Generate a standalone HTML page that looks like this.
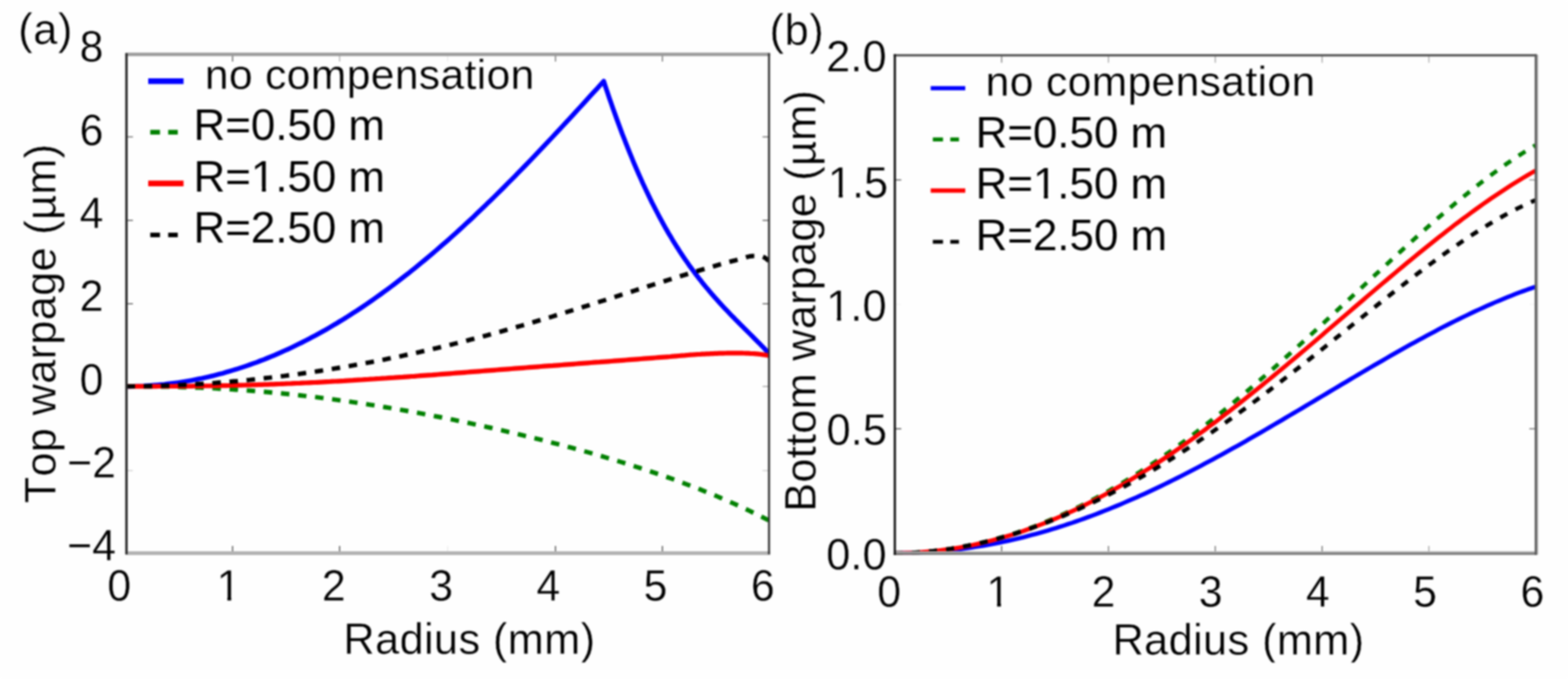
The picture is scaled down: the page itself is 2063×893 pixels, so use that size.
<!DOCTYPE html>
<html lang="en"><head><meta charset="utf-8"><title>Warpage vs radius</title>
<style>html,body{margin:0;padding:0;background:#fff;overflow:hidden}svg{display:block;filter:blur(1.0px)}
text{font-family:"Liberation Sans",sans-serif;font-size:56px;fill:#000;stroke:#fefefe;stroke-width:0.4px;paint-order:fill stroke;font-kerning:none;letter-spacing:0.5px;font-feature-settings:"kern" 0,"liga" 0}
.c{fill:none;stroke-width:6.2;stroke-linejoin:round;stroke-linecap:butt}.d{stroke-dasharray:11.2 11.4;stroke-width:5.9}#right .c{stroke-width:5.7}#right .d{stroke-dasharray:10.6 12;stroke-width:5.5}.m{text-anchor:middle}.l{fill:none}.t{text-anchor:middle;font-size:58px;letter-spacing:0}</style></head><body>
<svg width="2063" height="893" viewBox="0 0 2063 893">
<rect x="-5" y="-5" width="2073" height="903" fill="#fefefe"/>
<g id="left">
<clipPath id="cl1"><rect x="165.4" y="71.5" width="847.4" height="656.0"/></clipPath>
<path class="l" d="M306.0,727.5v-9.5" stroke="#3a3a3a" stroke-width="1.3" opacity="1"/>
<path class="l" d="M306.0,71.5v9.5" stroke="#3a3a3a" stroke-width="1.3" opacity="0.9"/>
<path class="l" d="M446.8,727.5v-9.5" stroke="#3a3a3a" stroke-width="1.3" opacity="1"/>
<path class="l" d="M446.8,71.5v9.5" stroke="#3a3a3a" stroke-width="1.3" opacity="0.45"/>
<path class="l" d="M589.0,727.5v-9.5" stroke="#3a3a3a" stroke-width="1.3" opacity="0.1"/>
<path class="l" d="M589.0,71.5v9.5" stroke="#3a3a3a" stroke-width="1.3" opacity="0.1"/>
<path class="l" d="M730.8,727.5v-9.5" stroke="#3a3a3a" stroke-width="1.3" opacity="1"/>
<path class="l" d="M730.8,71.5v9.5" stroke="#3a3a3a" stroke-width="1.3" opacity="0.8"/>
<path class="l" d="M871.5,727.5v-9.5" stroke="#3a3a3a" stroke-width="1.3" opacity="1"/>
<path class="l" d="M871.5,71.5v9.5" stroke="#3a3a3a" stroke-width="1.3" opacity="0.8"/>
<path class="l" d="M166.4,180.0h8.5" stroke="#3a3a3a" stroke-width="1.3" opacity="0.8"/>
<path class="l" d="M1011.8,180.0h-8.5" stroke="#3a3a3a" stroke-width="1.3" opacity="0.8"/>
<path class="l" d="M166.4,289.8h8.5" stroke="#3a3a3a" stroke-width="1.3" opacity="0.9"/>
<path class="l" d="M1011.8,289.8h-8.5" stroke="#3a3a3a" stroke-width="1.3" opacity="0.9"/>
<path class="l" d="M166.4,399.5h8.5" stroke="#3a3a3a" stroke-width="1.3" opacity="0.9"/>
<path class="l" d="M1011.8,399.5h-8.5" stroke="#3a3a3a" stroke-width="1.3" opacity="0.9"/>
<path class="l" d="M166.4,508.3h8.5" stroke="#3a3a3a" stroke-width="1.3" opacity="0"/>
<path class="l" d="M1011.8,508.3h-8.5" stroke="#3a3a3a" stroke-width="1.3" opacity="0.5"/>
<path class="l" d="M166.4,618.9h8.5" stroke="#3a3a3a" stroke-width="1.3" opacity="0.25"/>
<path class="l" d="M1011.8,618.9h-8.5" stroke="#3a3a3a" stroke-width="1.3" opacity="0.25"/>
<g clip-path="url(#cl1)">
<path class="c" stroke="#0000ff" d="M166.5,508.1 L171.0,508.1 L175.5,508.0 L180.0,507.9 L184.6,507.8 L189.1,507.6 L193.6,507.3 L198.1,507.0 L202.6,506.7 L207.1,506.3 L211.7,505.9 L216.2,505.5 L220.7,504.9 L225.2,504.4 L229.7,503.8 L234.2,503.2 L238.8,502.5 L243.3,501.8 L247.8,501.0 L252.3,500.2 L256.8,499.3 L261.3,498.4 L265.9,497.5 L270.4,496.5 L274.9,495.4 L279.4,494.4 L283.9,493.2 L288.4,492.1 L293.0,490.9 L297.5,489.6 L302.0,488.3 L306.5,486.9 L311.0,485.6 L315.5,484.1 L320.1,482.6 L324.6,481.1 L329.1,479.5 L333.6,477.9 L338.1,476.3 L342.6,474.5 L347.2,472.8 L351.7,471.0 L356.2,469.2 L360.7,467.3 L365.2,465.3 L369.7,463.4 L374.3,461.3 L378.8,459.3 L383.3,457.2 L387.8,455.0 L392.3,452.8 L396.8,450.6 L401.4,448.3 L405.9,446.0 L410.4,443.6 L414.9,441.2 L419.4,438.7 L423.9,436.2 L428.5,433.7 L433.0,431.1 L437.5,428.4 L442.0,425.8 L446.5,423.0 L451.0,420.3 L455.6,417.5 L460.1,414.6 L464.6,411.7 L469.1,408.8 L473.6,405.8 L478.1,402.8 L482.7,399.7 L487.2,396.6 L491.7,393.5 L496.2,390.3 L500.7,387.1 L505.2,383.8 L509.8,380.5 L514.3,377.1 L518.8,373.7 L523.3,370.3 L527.8,366.8 L532.3,363.3 L536.9,359.8 L541.4,356.2 L545.9,352.6 L550.4,348.9 L554.9,345.2 L559.4,341.5 L564.0,337.7 L568.5,333.9 L573.0,330.0 L577.5,326.1 L582.0,322.2 L586.5,318.3 L591.1,314.3 L595.6,310.2 L600.1,306.2 L604.6,302.1 L609.1,298.0 L613.6,293.8 L618.2,289.6 L622.7,285.4 L627.2,281.1 L631.7,276.8 L636.2,272.5 L640.7,268.1 L645.3,263.8 L649.8,259.4 L654.3,254.9 L658.8,250.5 L663.3,246.0 L667.8,241.4 L672.4,236.9 L676.9,232.3 L681.4,227.7 L685.9,223.1 L690.4,218.5 L694.9,213.8 L699.5,209.1 L704.0,204.4 L708.5,199.7 L713.0,194.9 L717.5,190.1 L722.0,185.4 L726.6,180.5 L731.1,175.7 L735.6,170.9 L740.1,166.0 L744.6,161.1 L749.1,156.3 L753.7,151.4 L758.2,146.4 L762.7,141.5 L767.2,136.6 L771.7,131.6 L776.2,126.7 L780.8,121.7 L785.3,116.8 L789.8,111.8 L794.3,106.8 L796.7,114.2 L799.2,121.5 L801.6,128.7 L804.1,135.8 L806.5,142.8 L809.0,149.6 L811.4,156.4 L813.9,163.1 L816.3,169.6 L818.7,176.1 L821.2,182.4 L823.6,188.7 L826.1,194.9 L828.5,200.9 L831.0,206.9 L833.4,212.8 L835.8,218.5 L838.3,224.2 L840.7,229.8 L843.2,235.3 L845.6,240.7 L848.1,246.0 L850.5,251.2 L853.0,256.3 L855.4,261.3 L857.8,266.3 L860.3,271.2 L862.7,275.9 L865.2,280.6 L867.6,285.2 L870.1,289.8 L872.5,294.2 L874.9,298.6 L877.4,302.9 L879.8,307.1 L882.3,311.2 L884.7,315.3 L887.2,319.3 L889.6,323.2 L892.1,327.0 L894.5,330.8 L896.9,334.5 L899.4,338.2 L901.8,341.8 L904.3,345.3 L906.7,348.8 L909.2,352.2 L911.6,355.5 L914.0,358.8 L916.5,362.0 L918.9,365.2 L921.4,368.3 L923.8,371.4 L926.3,374.4 L928.7,377.4 L931.2,380.3 L933.6,383.2 L936.0,386.1 L938.5,388.9 L940.9,391.7 L943.4,394.4 L945.8,397.1 L948.3,399.8 L950.7,402.5 L953.1,405.1 L955.6,407.7 L958.0,410.2 L960.5,412.8 L962.9,415.3 L965.4,417.8 L967.8,420.3 L970.3,422.8 L972.7,425.2 L975.1,427.7 L977.6,430.1 L980.0,432.6 L982.5,435.0 L984.9,437.4 L987.4,439.9 L989.8,442.3 L992.2,444.7 L994.7,447.2 L997.1,449.7 L999.6,452.1 L1002.0,454.6 L1004.5,457.1 L1006.9,459.7 L1009.4,462.2 L1011.8,464.8"/>
<path class="c d" stroke="#008000" d="M166.5,508.1 L171.8,508.1 L177.1,508.1 L182.4,508.1 L187.8,508.2 L193.1,508.2 L198.4,508.3 L203.7,508.3 L209.0,508.4 L214.3,508.5 L219.7,508.6 L225.0,508.7 L230.3,508.9 L235.6,509.0 L240.9,509.2 L246.2,509.3 L251.6,509.5 L256.9,509.7 L262.2,509.9 L267.5,510.1 L272.8,510.4 L278.1,510.6 L283.5,510.9 L288.8,511.2 L294.1,511.5 L299.4,511.8 L304.7,512.1 L310.0,512.5 L315.4,512.8 L320.7,513.2 L326.0,513.6 L331.3,514.0 L336.6,514.4 L341.9,514.8 L347.3,515.3 L352.6,515.7 L357.9,516.2 L363.2,516.7 L368.5,517.2 L373.8,517.7 L379.2,518.3 L384.5,518.8 L389.8,519.4 L395.1,520.0 L400.4,520.6 L405.7,521.2 L411.1,521.8 L416.4,522.4 L421.7,523.1 L427.0,523.8 L432.3,524.4 L437.6,525.1 L443.0,525.9 L448.3,526.6 L453.6,527.3 L458.9,528.1 L464.2,528.8 L469.5,529.6 L474.8,530.4 L480.2,531.2 L485.5,532.1 L490.8,532.9 L496.1,533.7 L501.4,534.6 L506.7,535.5 L512.1,536.4 L517.4,537.3 L522.7,538.2 L528.0,539.1 L533.3,540.0 L538.6,541.0 L544.0,542.0 L549.3,542.9 L554.6,543.9 L559.9,544.9 L565.2,545.9 L570.5,547.0 L575.9,548.0 L581.2,549.0 L586.5,550.1 L591.8,551.2 L597.1,552.2 L602.4,553.3 L607.8,554.4 L613.1,555.6 L618.4,556.7 L623.7,557.8 L629.0,559.0 L634.3,560.1 L639.7,561.3 L645.0,562.5 L650.3,563.7 L655.6,564.9 L660.9,566.1 L666.2,567.4 L671.6,568.6 L676.9,569.9 L682.2,571.1 L687.5,572.4 L692.8,573.7 L698.1,575.0 L703.5,576.3 L708.8,577.6 L714.1,579.0 L719.4,580.3 L724.7,581.7 L730.0,583.1 L735.3,584.4 L740.7,585.8 L746.0,587.3 L751.3,588.7 L756.6,590.1 L761.9,591.6 L767.2,593.1 L772.6,594.5 L777.9,596.0 L783.2,597.6 L788.5,599.1 L793.8,600.6 L799.1,602.2 L804.5,603.8 L809.8,605.4 L815.1,607.0 L820.4,608.6 L825.7,610.3 L831.0,612.0 L836.4,613.7 L841.7,615.4 L847.0,617.1 L852.3,618.9 L857.6,620.6 L862.9,622.4 L868.3,624.2 L873.6,626.1 L878.9,627.9 L884.2,629.8 L889.5,631.7 L894.8,633.7 L900.2,635.7 L905.5,637.7 L910.8,639.7 L916.1,641.7 L921.4,643.8 L926.7,645.9 L932.1,648.1 L937.4,650.2 L942.7,652.4 L948.0,654.7 L953.3,657.0 L958.6,659.3 L964.0,661.6 L969.3,664.0 L974.6,666.5 L979.9,668.9 L985.2,671.4 L990.5,674.0 L995.9,676.6 L1001.2,679.2 L1006.5,681.9 L1011.8,684.6"/>
<path class="c" stroke="#ff0000" d="M166.5,508.1 L170.4,508.1 L174.2,508.1 L178.1,508.1 L182.0,508.1 L185.8,508.1 L189.7,508.1 L193.6,508.1 L197.4,508.1 L201.3,508.1 L205.2,508.1 L209.0,508.0 L212.9,508.0 L216.8,508.0 L220.6,508.0 L224.5,508.0 L228.4,508.0 L232.2,507.9 L236.1,507.9 L240.0,507.9 L243.8,507.8 L247.7,507.8 L251.6,507.8 L255.4,507.7 L259.3,507.7 L263.2,507.6 L267.0,507.6 L270.9,507.5 L274.8,507.5 L278.6,507.4 L282.5,507.3 L286.4,507.3 L290.2,507.2 L294.1,507.1 L298.0,507.1 L301.8,507.0 L305.7,506.9 L309.6,506.8 L313.4,506.7 L317.3,506.6 L321.2,506.5 L325.0,506.4 L328.9,506.3 L332.8,506.2 L336.6,506.1 L340.5,505.9 L344.4,505.8 L348.2,505.7 L352.1,505.6 L356.0,505.4 L359.8,505.3 L363.7,505.1 L367.5,505.0 L371.4,504.8 L375.3,504.7 L379.1,504.5 L383.0,504.4 L386.9,504.2 L390.7,504.0 L394.6,503.9 L398.5,503.7 L402.3,503.5 L406.2,503.3 L410.1,503.1 L413.9,503.0 L417.8,502.8 L421.7,502.6 L425.5,502.4 L429.4,502.2 L433.3,502.0 L437.1,501.7 L441.0,501.5 L444.9,501.3 L448.7,501.1 L452.6,500.9 L456.5,500.6 L460.3,500.4 L464.2,500.2 L468.1,499.9 L471.9,499.7 L475.8,499.5 L479.7,499.2 L483.5,499.0 L487.4,498.7 L491.3,498.5 L495.1,498.2 L499.0,498.0 L502.9,497.7 L506.7,497.5 L510.6,497.2 L514.5,496.9 L518.3,496.7 L522.2,496.4 L526.1,496.1 L529.9,495.9 L533.8,495.6 L537.7,495.3 L541.5,495.0 L545.4,494.8 L549.3,494.5 L553.1,494.2 L557.0,493.9 L560.9,493.6 L564.7,493.3 L568.6,493.1 L572.5,492.8 L576.3,492.5 L580.2,492.2 L584.1,491.9 L587.9,491.6 L591.8,491.3 L595.7,491.0 L599.5,490.7 L603.4,490.4 L607.3,490.1 L611.1,489.8 L615.0,489.5 L618.9,489.2 L622.7,488.9 L626.6,488.6 L630.5,488.3 L634.3,488.0 L638.2,487.7 L642.1,487.4 L645.9,487.1 L649.8,486.8 L653.7,486.5 L657.5,486.2 L661.4,485.9 L665.3,485.6 L669.1,485.3 L673.0,485.0 L676.9,484.7 L680.7,484.4 L684.6,484.1 L688.5,483.8 L692.3,483.5 L696.2,483.2 L700.1,482.9 L703.9,482.6 L707.8,482.3 L711.7,482.0 L715.5,481.7 L719.4,481.4 L723.3,481.1 L727.1,480.9 L731.0,480.6 L734.9,480.3 L738.7,480.0 L742.6,479.7 L746.4,479.4 L750.3,479.1 L754.2,478.8 L758.0,478.5 L761.9,478.2 L765.8,477.9 L769.6,477.6 L773.5,477.3 L777.4,477.0 L781.2,476.7 L785.1,476.4 L789.0,476.2 L792.8,475.9 L796.7,475.6 L800.6,475.3 L804.4,475.0 L808.3,474.7 L812.2,474.4 L816.0,474.1 L819.9,473.8 L823.8,473.5 L827.6,473.2 L831.5,472.9 L835.4,472.6 L839.2,472.3 L843.1,472.0 L847.0,471.7 L850.8,471.4 L854.7,471.1 L858.6,470.8 L862.4,470.5 L866.3,470.2 L870.2,469.9 L874.0,469.6 L877.9,469.3 L881.8,469.0 L885.6,468.6 L889.5,468.3 L893.4,468.0 L897.2,467.7 L901.1,467.4 L905.0,467.0 L908.8,466.7 L912.7,466.4 L913.2,466.3 L915.9,466.2 L918.7,466.0 L921.4,465.9 L924.1,465.7 L926.9,465.6 L929.6,465.4 L932.4,465.3 L935.1,465.2 L937.8,465.1 L940.6,464.9 L943.3,464.8 L946.1,464.7 L948.8,464.6 L951.5,464.6 L954.3,464.5 L957.0,464.4 L959.8,464.4 L962.5,464.3 L965.2,464.3 L968.0,464.3 L970.7,464.3 L973.5,464.3 L976.2,464.4 L978.9,464.5 L981.7,464.6 L984.4,464.7 L987.1,464.9 L989.9,465.0 L992.6,465.2 L995.4,465.4 L998.1,465.7 L1000.8,466.0 L1003.6,466.4 L1006.3,466.7 L1009.1,467.2 L1011.8,467.6"/>
<path class="c d" stroke="#000" d="M166.5,508.1 L170.7,508.1 L174.8,508.1 L179.0,508.0 L183.1,508.0 L187.3,507.9 L191.4,507.9 L195.6,507.8 L199.7,507.7 L203.9,507.6 L208.0,507.5 L212.2,507.4 L216.3,507.2 L220.5,507.1 L224.6,506.9 L228.8,506.8 L232.9,506.6 L237.1,506.4 L241.2,506.2 L245.4,506.0 L249.5,505.8 L253.7,505.5 L257.8,505.3 L262.0,505.0 L266.1,504.8 L270.3,504.5 L274.4,504.2 L278.6,503.9 L282.7,503.6 L286.9,503.3 L291.0,503.0 L295.2,502.6 L299.3,502.3 L303.5,501.9 L307.6,501.5 L311.8,501.2 L315.9,500.8 L320.1,500.4 L324.2,500.0 L328.4,499.6 L332.6,499.1 L336.7,498.7 L340.9,498.3 L345.0,497.8 L349.2,497.3 L353.3,496.9 L357.5,496.4 L361.6,495.9 L365.8,495.4 L369.9,494.9 L374.1,494.4 L378.2,493.8 L382.4,493.3 L386.5,492.7 L390.7,492.2 L394.8,491.6 L399.0,491.0 L403.1,490.4 L407.3,489.8 L411.4,489.2 L415.6,488.6 L419.7,488.0 L423.9,487.3 L428.0,486.7 L432.2,486.0 L436.3,485.4 L440.5,484.7 L444.6,484.0 L448.8,483.3 L452.9,482.6 L457.1,481.9 L461.2,481.2 L465.4,480.4 L469.5,479.7 L473.7,478.9 L477.8,478.2 L482.0,477.4 L486.1,476.6 L490.3,475.8 L494.4,475.0 L498.6,474.2 L502.8,473.4 L506.9,472.6 L511.1,471.7 L515.2,470.9 L519.4,470.0 L523.5,469.2 L527.7,468.3 L531.8,467.4 L536.0,466.5 L540.1,465.6 L544.3,464.7 L548.4,463.8 L552.6,462.9 L556.7,461.9 L560.9,461.0 L565.0,460.0 L569.2,459.0 L573.3,458.1 L577.5,457.1 L581.6,456.1 L585.8,455.1 L589.9,454.1 L594.1,453.1 L598.2,452.0 L602.4,451.0 L606.5,449.9 L610.7,448.9 L614.8,447.8 L619.0,446.7 L623.1,445.7 L627.3,444.6 L631.4,443.5 L635.6,442.4 L639.7,441.3 L643.9,440.1 L648.0,439.0 L652.2,437.9 L656.3,436.7 L660.5,435.6 L664.7,434.4 L668.8,433.2 L673.0,432.1 L677.1,430.9 L681.3,429.7 L685.4,428.5 L689.6,427.3 L693.7,426.1 L697.9,424.9 L702.0,423.7 L706.2,422.4 L710.3,421.2 L714.5,420.0 L718.6,418.7 L722.8,417.5 L726.9,416.2 L731.1,414.9 L735.2,413.7 L739.4,412.4 L743.5,411.1 L747.7,409.8 L751.8,408.5 L756.0,407.3 L760.1,406.0 L764.3,404.7 L768.4,403.4 L772.6,402.1 L776.7,400.7 L780.9,399.4 L785.0,398.1 L789.2,396.8 L793.3,395.5 L797.5,394.2 L801.6,392.8 L805.8,391.5 L809.9,390.2 L814.1,388.9 L818.2,387.5 L822.4,386.2 L826.5,384.9 L830.7,383.6 L834.9,382.2 L839.0,380.9 L843.2,379.6 L847.3,378.3 L851.5,376.9 L855.6,375.6 L859.8,374.3 L863.9,373.0 L868.1,371.7 L872.2,370.4 L876.4,369.1 L880.5,367.8 L884.7,366.5 L888.8,365.2 L893.0,363.9 L897.1,362.6 L901.3,361.4 L905.4,360.1 L909.6,358.8 L913.7,357.6 L917.9,356.4 L922.0,355.1 L926.2,353.9 L930.3,352.7 L934.5,351.5 L938.6,350.3 L942.8,349.1 L946.9,347.9 L951.1,346.8 L955.2,345.6 L959.4,344.5 L963.5,343.4 L967.7,342.3 L968.8,342.0 L970.1,341.6 L971.5,341.2 L972.8,340.8 L974.2,340.4 L975.5,340.0 L976.9,339.6 L978.2,339.2 L979.5,338.8 L980.9,338.5 L982.2,338.1 L983.6,337.8 L984.9,337.5 L986.3,337.2 L987.6,337.0 L989.0,336.8 L990.3,336.7 L991.6,336.6 L993.0,336.6 L994.3,336.6 L995.7,336.7 L997.0,336.8 L998.4,336.9 L999.7,337.0 L1001.0,337.2 L1002.4,337.4 L1003.7,337.7 L1005.1,338.3 L1006.4,339.1 L1007.8,340.0 L1009.1,341.1 L1010.5,342.2 L1011.8,343.4"/>
</g>
<path class="l" d="M164.9,71.5H1013.3" stroke="#9a9a9a" stroke-width="4.4"/><path class="l" d="M164.9,727.5H1013.3" stroke="#b2b2b2" stroke-width="4.8"/><path class="l" d="M166.4,70.0V729.0" stroke="#2a2a2a" stroke-width="3.2"/><path class="l" d="M1011.8,70.0V729.0" stroke="#333" stroke-width="2.7"/>
<text class="t" textLength="31.3" lengthAdjust="spacingAndGlyphs" x="120.4" y="81.2">8</text>
<text class="t" textLength="31.3" lengthAdjust="spacingAndGlyphs" x="120.4" y="190.5">6</text>
<text class="t" textLength="31.3" lengthAdjust="spacingAndGlyphs" x="120.4" y="299.9">4</text>
<text class="t" textLength="31.3" lengthAdjust="spacingAndGlyphs" x="120.4" y="409.2">2</text>
<text class="t" textLength="31.3" lengthAdjust="spacingAndGlyphs" x="120.4" y="518.5">0</text>
<text class="t" textLength="64.3" lengthAdjust="spacingAndGlyphs" x="120.4" y="627.9">−2</text>
<text class="t" textLength="64.3" lengthAdjust="spacingAndGlyphs" x="120.4" y="737.2">−4</text>
<text class="t" textLength="31.3" lengthAdjust="spacingAndGlyphs" x="157.0" y="790.3">0</text>
<text class="t" textLength="31.3" lengthAdjust="spacingAndGlyphs" x="300.7" y="790.3">1</text>
<text class="t" textLength="31.3" lengthAdjust="spacingAndGlyphs" x="439.2" y="790.3">2</text>
<text class="t" textLength="31.3" lengthAdjust="spacingAndGlyphs" x="580.3" y="790.3">3</text>
<text class="t" textLength="31.3" lengthAdjust="spacingAndGlyphs" x="721.4" y="790.3">4</text>
<text class="t" textLength="31.3" lengthAdjust="spacingAndGlyphs" x="862.5" y="790.3">5</text>
<text class="t" textLength="31.3" lengthAdjust="spacingAndGlyphs" x="1003.6" y="790.3">6</text>
<text class="m" x="617.7" y="859.8" style="font-size:57px">Radius (mm)</text>
<text class="m" transform="translate(72.8,425.4) rotate(-90)" style="font-size:57px;letter-spacing:0.4px">Top warpage (µm)</text>
<text x="24" y="58.3" style="font-size:57px;letter-spacing:0.8px">(a)</text>
<path class="l" d="M195,106.8h46.5" stroke="#0000ff" stroke-width="7.6"/>
<text x="269.5" y="116.5" style="letter-spacing:0.5px;font-size:56px;stroke-width:0.3px">no compensation</text>
<path class="l" d="M197.7,173.8h12.8M221.3,173.8h12.6" stroke="#008000" stroke-width="6.2"/>
<text x="254.6" y="184.0" style="letter-spacing:-0.15px;font-size:58px;stroke-width:0.1px">R=0.50 m</text>
<path class="l" d="M195,241.3h46.5" stroke="#ff0000" stroke-width="7.6"/>
<text x="254.6" y="251.5" style="letter-spacing:-0.15px;font-size:58px;stroke-width:0.1px">R=1.50 m</text>
<path class="l" d="M197.7,309.0h12.8M221.3,309.0h12.6" stroke="#000" stroke-width="6.2"/>
<text x="254.6" y="319.0" style="letter-spacing:-0.15px;font-size:58px;stroke-width:0.1px">R=2.50 m</text>
</g>
<g id="right">
<clipPath id="cl2"><rect x="1176.3" y="73.0" width="845.3" height="656.5"/></clipPath>
<path class="l" d="M1317.8,727.5v-9.5" stroke="#3a3a3a" stroke-width="1.3" opacity="0.9"/>
<path class="l" d="M1317.8,73.0v9.5" stroke="#3a3a3a" stroke-width="1.3" opacity="0.7"/>
<path class="l" d="M1458.4,727.5v-9.5" stroke="#3a3a3a" stroke-width="1.3" opacity="0.8"/>
<path class="l" d="M1458.4,73.0v9.5" stroke="#3a3a3a" stroke-width="1.3" opacity="0.5"/>
<path class="l" d="M1598.9,727.5v-9.5" stroke="#3a3a3a" stroke-width="1.3" opacity="0.8"/>
<path class="l" d="M1598.9,73.0v9.5" stroke="#3a3a3a" stroke-width="1.3" opacity="0.5"/>
<path class="l" d="M1739.5,727.5v-9.5" stroke="#3a3a3a" stroke-width="1.3" opacity="0.8"/>
<path class="l" d="M1739.5,73.0v9.5" stroke="#3a3a3a" stroke-width="1.3" opacity="0.5"/>
<path class="l" d="M1880.0,727.5v-9.5" stroke="#3a3a3a" stroke-width="1.3" opacity="0.5"/>
<path class="l" d="M1880.0,73.0v9.5" stroke="#3a3a3a" stroke-width="1.3" opacity="0.45"/>
<path class="l" d="M1177.3,236.6h8.5" stroke="#3a3a3a" stroke-width="1.3" opacity="0.9"/>
<path class="l" d="M2020.6,236.6h-8.5" stroke="#3a3a3a" stroke-width="1.3" opacity="0.6"/>
<path class="l" d="M1177.3,400.2h8.5" stroke="#3a3a3a" stroke-width="1.3" opacity="0.05"/>
<path class="l" d="M2020.6,400.2h-8.5" stroke="#3a3a3a" stroke-width="1.3" opacity="0.05"/>
<path class="l" d="M1177.3,563.9h8.5" stroke="#3a3a3a" stroke-width="1.3" opacity="1"/>
<path class="l" d="M2020.6,563.9h-8.5" stroke="#3a3a3a" stroke-width="1.3" opacity="0.8"/>
<g clip-path="url(#cl2)">
<path class="c" stroke="#0000ff" d="M1177.2,727.5 L1182.5,727.5 L1187.8,727.4 L1193.1,727.3 L1198.4,727.2 L1203.7,727.0 L1209.0,726.8 L1214.3,726.5 L1219.6,726.2 L1224.9,725.9 L1230.2,725.5 L1235.5,725.1 L1240.8,724.6 L1246.1,724.1 L1251.4,723.5 L1256.7,722.9 L1262.0,722.3 L1267.3,721.6 L1272.6,720.9 L1277.9,720.1 L1283.3,719.3 L1288.6,718.5 L1293.9,717.6 L1299.2,716.6 L1304.5,715.7 L1309.8,714.7 L1315.1,713.6 L1320.4,712.5 L1325.7,711.4 L1331.0,710.2 L1336.3,709.0 L1341.6,707.7 L1346.9,706.4 L1352.2,705.0 L1357.5,703.6 L1362.8,702.2 L1368.1,700.7 L1373.4,699.2 L1378.7,697.7 L1384.0,696.1 L1389.3,694.5 L1394.6,692.8 L1399.9,691.1 L1405.2,689.3 L1410.5,687.6 L1415.8,685.7 L1421.1,683.9 L1426.4,682.0 L1431.7,680.0 L1437.0,678.1 L1442.3,676.1 L1447.6,674.0 L1452.9,671.9 L1458.2,669.8 L1463.5,667.7 L1468.8,665.5 L1474.1,663.3 L1479.4,661.0 L1484.7,658.7 L1490.0,656.4 L1495.4,654.1 L1500.7,651.7 L1506.0,649.3 L1511.3,646.8 L1516.6,644.3 L1521.9,641.8 L1527.2,639.3 L1532.5,636.7 L1537.8,634.1 L1543.1,631.5 L1548.4,628.9 L1553.7,626.2 L1559.0,623.5 L1564.3,620.8 L1569.6,618.0 L1574.9,615.3 L1580.2,612.5 L1585.5,609.6 L1590.8,606.8 L1596.1,603.9 L1601.4,601.1 L1606.7,598.2 L1612.0,595.2 L1617.3,592.3 L1622.6,589.3 L1627.9,586.4 L1633.2,583.4 L1638.5,580.4 L1643.8,577.3 L1649.1,574.3 L1654.4,571.2 L1659.7,568.2 L1665.0,565.1 L1670.3,562.0 L1675.6,558.9 L1680.9,555.8 L1686.2,552.7 L1691.5,549.5 L1696.8,546.4 L1702.1,543.3 L1707.5,540.1 L1712.8,537.0 L1718.1,533.8 L1723.4,530.6 L1728.7,527.5 L1734.0,524.3 L1739.3,521.1 L1744.6,518.0 L1749.9,514.8 L1755.2,511.6 L1760.5,508.5 L1765.8,505.3 L1771.1,502.2 L1776.4,499.0 L1781.7,495.9 L1787.0,492.8 L1792.3,489.6 L1797.6,486.5 L1802.9,483.4 L1808.2,480.3 L1813.5,477.2 L1818.8,474.2 L1824.1,471.1 L1829.4,468.1 L1834.7,465.0 L1840.0,462.0 L1845.3,459.0 L1850.6,456.1 L1855.9,453.1 L1861.2,450.2 L1866.5,447.3 L1871.8,444.4 L1877.1,441.5 L1882.4,438.7 L1887.7,435.9 L1893.0,433.1 L1898.3,430.3 L1903.6,427.6 L1908.9,424.9 L1914.2,422.3 L1919.6,419.6 L1924.9,417.0 L1930.2,414.5 L1935.5,411.9 L1940.8,409.4 L1946.1,407.0 L1951.4,404.6 L1956.7,402.2 L1962.0,399.8 L1967.3,397.5 L1972.6,395.3 L1977.9,393.1 L1983.2,390.9 L1988.5,388.8 L1993.8,386.7 L1999.1,384.7 L2004.4,382.8 L2009.7,380.8 L2015.0,379.0 L2020.3,377.1"/>
<path class="c d" stroke="#008000" d="M1177.2,727.5 L1182.5,727.5 L1187.8,727.4 L1193.1,727.2 L1198.4,727.0 L1203.7,726.8 L1209.0,726.4 L1214.3,726.0 L1219.6,725.6 L1224.9,725.1 L1230.2,724.5 L1235.5,723.9 L1240.8,723.2 L1246.1,722.5 L1251.4,721.7 L1256.7,720.8 L1262.0,719.9 L1267.3,718.9 L1272.6,717.9 L1277.9,716.8 L1283.3,715.7 L1288.6,714.5 L1293.9,713.2 L1299.2,711.9 L1304.5,710.5 L1309.8,709.0 L1315.1,707.5 L1320.4,706.0 L1325.7,704.4 L1331.0,702.7 L1336.3,701.0 L1341.6,699.2 L1346.9,697.3 L1352.2,695.4 L1357.5,693.5 L1362.8,691.5 L1368.1,689.4 L1373.4,687.3 L1378.7,685.1 L1384.0,682.8 L1389.3,680.5 L1394.6,678.2 L1399.9,675.8 L1405.2,673.3 L1410.5,670.8 L1415.8,668.2 L1421.1,665.6 L1426.4,662.9 L1431.7,660.2 L1437.0,657.4 L1442.3,654.6 L1447.6,651.7 L1452.9,648.8 L1458.2,645.8 L1463.5,642.7 L1468.8,639.6 L1474.1,636.5 L1479.4,633.3 L1484.7,630.0 L1490.0,626.7 L1495.4,623.4 L1500.7,620.0 L1506.0,616.5 L1511.3,613.1 L1516.6,609.5 L1521.9,605.9 L1527.2,602.3 L1532.5,598.6 L1537.8,594.9 L1543.1,591.1 L1548.4,587.3 L1553.7,583.5 L1559.0,579.6 L1564.3,575.6 L1569.6,571.6 L1574.9,567.6 L1580.2,563.5 L1585.5,559.4 L1590.8,555.3 L1596.1,551.1 L1601.4,546.9 L1606.7,542.6 L1612.0,538.3 L1617.3,534.0 L1622.6,529.6 L1627.9,525.2 L1633.2,520.8 L1638.5,516.3 L1643.8,511.9 L1649.1,507.3 L1654.4,502.8 L1659.7,498.2 L1665.0,493.6 L1670.3,488.9 L1675.6,484.3 L1680.9,479.6 L1686.2,474.9 L1691.5,470.1 L1696.8,465.4 L1702.1,460.6 L1707.5,455.8 L1712.8,451.0 L1718.1,446.2 L1723.4,441.3 L1728.7,436.5 L1734.0,431.6 L1739.3,426.7 L1744.6,421.8 L1749.9,416.9 L1755.2,412.0 L1760.5,407.0 L1765.8,402.1 L1771.1,397.2 L1776.4,392.2 L1781.7,387.3 L1787.0,382.3 L1792.3,377.4 L1797.6,372.5 L1802.9,367.5 L1808.2,362.6 L1813.5,357.7 L1818.8,352.8 L1824.1,347.9 L1829.4,343.0 L1834.7,338.1 L1840.0,333.2 L1845.3,328.4 L1850.6,323.6 L1855.9,318.8 L1861.2,314.0 L1866.5,309.2 L1871.8,304.5 L1877.1,299.8 L1882.4,295.1 L1887.7,290.5 L1893.0,285.9 L1898.3,281.3 L1903.6,276.8 L1908.9,272.3 L1914.2,267.8 L1919.6,263.4 L1924.9,259.1 L1930.2,254.8 L1935.5,250.5 L1940.8,246.3 L1946.1,242.1 L1951.4,238.0 L1956.7,234.0 L1962.0,230.0 L1967.3,226.1 L1972.6,222.3 L1977.9,218.5 L1983.2,214.8 L1988.5,211.2 L1993.8,207.6 L1999.1,204.1 L2004.4,200.7 L2009.7,197.4 L2015.0,194.2 L2020.3,191.1"/>
<path class="c" stroke="#ff0000" d="M1177.2,727.5 L1182.5,727.5 L1187.8,727.4 L1193.1,727.2 L1198.4,727.0 L1203.7,726.8 L1209.0,726.5 L1214.3,726.1 L1219.6,725.7 L1224.9,725.2 L1230.2,724.6 L1235.5,724.0 L1240.8,723.4 L1246.1,722.7 L1251.4,721.9 L1256.7,721.1 L1262.0,720.2 L1267.3,719.2 L1272.6,718.2 L1277.9,717.2 L1283.3,716.0 L1288.6,714.9 L1293.9,713.6 L1299.2,712.3 L1304.5,711.0 L1309.8,709.6 L1315.1,708.1 L1320.4,706.6 L1325.7,705.0 L1331.0,703.4 L1336.3,701.7 L1341.6,700.0 L1346.9,698.2 L1352.2,696.3 L1357.5,694.4 L1362.8,692.4 L1368.1,690.4 L1373.4,688.3 L1378.7,686.2 L1384.0,684.0 L1389.3,681.8 L1394.6,679.5 L1399.9,677.1 L1405.2,674.7 L1410.5,672.3 L1415.8,669.8 L1421.1,667.2 L1426.4,664.6 L1431.7,662.0 L1437.0,659.3 L1442.3,656.5 L1447.6,653.7 L1452.9,650.9 L1458.2,648.0 L1463.5,645.0 L1468.8,642.0 L1474.1,639.0 L1479.4,635.9 L1484.7,632.7 L1490.0,629.5 L1495.4,626.3 L1500.7,623.0 L1506.0,619.7 L1511.3,616.4 L1516.6,613.0 L1521.9,609.5 L1527.2,606.0 L1532.5,602.5 L1537.8,598.9 L1543.1,595.3 L1548.4,591.7 L1553.7,588.0 L1559.0,584.2 L1564.3,580.5 L1569.6,576.7 L1574.9,572.8 L1580.2,569.0 L1585.5,565.1 L1590.8,561.1 L1596.1,557.2 L1601.4,553.2 L1606.7,549.1 L1612.0,545.1 L1617.3,541.0 L1622.6,536.8 L1627.9,532.7 L1633.2,528.5 L1638.5,524.3 L1643.8,520.1 L1649.1,515.8 L1654.4,511.6 L1659.7,507.3 L1665.0,502.9 L1670.3,498.6 L1675.6,494.2 L1680.9,489.9 L1686.2,485.5 L1691.5,481.1 L1696.8,476.6 L1702.1,472.2 L1707.5,467.7 L1712.8,463.3 L1718.1,458.8 L1723.4,454.3 L1728.7,449.8 L1734.0,445.3 L1739.3,440.8 L1744.6,436.2 L1749.9,431.7 L1755.2,427.2 L1760.5,422.7 L1765.8,418.1 L1771.1,413.6 L1776.4,409.1 L1781.7,404.5 L1787.0,400.0 L1792.3,395.5 L1797.6,390.9 L1802.9,386.4 L1808.2,381.9 L1813.5,377.4 L1818.8,372.9 L1824.1,368.5 L1829.4,364.0 L1834.7,359.6 L1840.0,355.1 L1845.3,350.7 L1850.6,346.3 L1855.9,342.0 L1861.2,337.6 L1866.5,333.3 L1871.8,329.0 L1877.1,324.7 L1882.4,320.5 L1887.7,316.2 L1893.0,312.0 L1898.3,307.9 L1903.6,303.7 L1908.9,299.7 L1914.2,295.6 L1919.6,291.6 L1924.9,287.6 L1930.2,283.7 L1935.5,279.8 L1940.8,275.9 L1946.1,272.1 L1951.4,268.3 L1956.7,264.6 L1962.0,260.9 L1967.3,257.3 L1972.6,253.8 L1977.9,250.3 L1983.2,246.8 L1988.5,243.4 L1993.8,240.1 L1999.1,236.8 L2004.4,233.6 L2009.7,230.5 L2015.0,227.4 L2020.3,224.4"/>
<path class="c d" stroke="#000" d="M1177.2,727.5 L1182.5,727.5 L1187.8,727.4 L1193.1,727.2 L1198.4,727.0 L1203.7,726.7 L1209.0,726.4 L1214.3,726.0 L1219.6,725.5 L1224.9,725.0 L1230.2,724.4 L1235.5,723.8 L1240.8,723.1 L1246.1,722.4 L1251.4,721.6 L1256.7,720.7 L1262.0,719.8 L1267.3,718.8 L1272.6,717.8 L1277.9,716.7 L1283.3,715.6 L1288.6,714.4 L1293.9,713.2 L1299.2,711.9 L1304.5,710.6 L1309.8,709.2 L1315.1,707.7 L1320.4,706.2 L1325.7,704.7 L1331.0,703.1 L1336.3,701.5 L1341.6,699.8 L1346.9,698.1 L1352.2,696.3 L1357.5,694.4 L1362.8,692.5 L1368.1,690.6 L1373.4,688.6 L1378.7,686.6 L1384.0,684.5 L1389.3,682.4 L1394.6,680.3 L1399.9,678.1 L1405.2,675.8 L1410.5,673.5 L1415.8,671.2 L1421.1,668.8 L1426.4,666.3 L1431.7,663.9 L1437.0,661.3 L1442.3,658.8 L1447.6,656.2 L1452.9,653.5 L1458.2,650.8 L1463.5,648.1 L1468.8,645.3 L1474.1,642.5 L1479.4,639.7 L1484.7,636.8 L1490.0,633.8 L1495.4,630.8 L1500.7,627.8 L1506.0,624.8 L1511.3,621.7 L1516.6,618.5 L1521.9,615.4 L1527.2,612.2 L1532.5,608.9 L1537.8,605.6 L1543.1,602.3 L1548.4,599.0 L1553.7,595.6 L1559.0,592.1 L1564.3,588.7 L1569.6,585.2 L1574.9,581.7 L1580.2,578.1 L1585.5,574.5 L1590.8,570.9 L1596.1,567.2 L1601.4,563.6 L1606.7,559.8 L1612.0,556.1 L1617.3,552.3 L1622.6,548.5 L1627.9,544.7 L1633.2,540.8 L1638.5,537.0 L1643.8,533.1 L1649.1,529.1 L1654.4,525.2 L1659.7,521.2 L1665.0,517.2 L1670.3,513.2 L1675.6,509.1 L1680.9,505.1 L1686.2,501.0 L1691.5,496.9 L1696.8,492.8 L1702.1,488.6 L1707.5,484.5 L1712.8,480.3 L1718.1,476.2 L1723.4,472.0 L1728.7,467.8 L1734.0,463.6 L1739.3,459.3 L1744.6,455.1 L1749.9,450.9 L1755.2,446.7 L1760.5,442.4 L1765.8,438.2 L1771.1,433.9 L1776.4,429.7 L1781.7,425.4 L1787.0,421.2 L1792.3,416.9 L1797.6,412.7 L1802.9,408.5 L1808.2,404.3 L1813.5,400.0 L1818.8,395.8 L1824.1,391.7 L1829.4,387.5 L1834.7,383.3 L1840.0,379.2 L1845.3,375.1 L1850.6,371.0 L1855.9,366.9 L1861.2,362.8 L1866.5,358.8 L1871.8,354.8 L1877.1,350.9 L1882.4,346.9 L1887.7,343.0 L1893.0,339.2 L1898.3,335.3 L1903.6,331.5 L1908.9,327.8 L1914.2,324.1 L1919.6,320.4 L1924.9,316.8 L1930.2,313.3 L1935.5,309.8 L1940.8,306.4 L1946.1,303.0 L1951.4,299.6 L1956.7,296.4 L1962.0,293.2 L1967.3,290.1 L1972.6,287.0 L1977.9,284.0 L1983.2,281.1 L1988.5,278.3 L1993.8,275.6 L1999.1,272.9 L2004.4,270.4 L2009.7,267.9 L2015.0,265.5 L2020.3,263.2"/>
</g>
<path class="l" d="M2022.5,72.0V729.5" stroke="#a8a8a8" stroke-width="2.4"/>
<path class="l" d="M1177.3,726.3H2021.6" stroke="#b0b0b0" stroke-width="2.4"/>
<path class="l" d="M1175.8,72.7H2022.1" stroke="#505050" stroke-width="2.9"/><path class="l" d="M1175.8,728.4H2022.1" stroke="#777" stroke-width="2.6"/><path class="l" d="M1177.3,71.2V729.9" stroke="#111" stroke-width="2.9"/><path class="l" d="M2020.6,71.2V729.9" stroke="#5a5a5a" stroke-width="2.8"/>
<text class="t" textLength="79.4" lengthAdjust="spacingAndGlyphs" x="1126.7" y="94.4">2.0</text>
<text class="t" textLength="79.4" lengthAdjust="spacingAndGlyphs" x="1128.9" y="259.5">1.5</text>
<text class="t" textLength="79.4" lengthAdjust="spacingAndGlyphs" x="1126.7" y="421.6">1.0</text>
<text class="t" textLength="79.4" lengthAdjust="spacingAndGlyphs" x="1127.3" y="585.3">0.5</text>
<text class="t" textLength="79.4" lengthAdjust="spacingAndGlyphs" x="1126.7" y="748.9">0.0</text>
<text class="t" textLength="31.3" lengthAdjust="spacingAndGlyphs" x="1169.8" y="797.5">0</text>
<text class="t" textLength="31.3" lengthAdjust="spacingAndGlyphs" x="1313.4" y="797.5">1</text>
<text class="t" textLength="31.3" lengthAdjust="spacingAndGlyphs" x="1451.9" y="797.5">2</text>
<text class="t" textLength="31.3" lengthAdjust="spacingAndGlyphs" x="1593.0" y="797.5">3</text>
<text class="t" textLength="31.3" lengthAdjust="spacingAndGlyphs" x="1734.0" y="797.5">4</text>
<text class="t" textLength="31.3" lengthAdjust="spacingAndGlyphs" x="1875.0" y="797.5">5</text>
<text class="t" textLength="31.3" lengthAdjust="spacingAndGlyphs" x="2016.1" y="797.5">6</text>
<text class="m" x="1629.5" y="860.8" style="font-size:57px">Radius (mm)</text>
<text class="m" transform="translate(1072.6,395.6) rotate(-90)" style="font-size:57px;letter-spacing:0.3px">Bottom warpage (µm)</text>
<text x="1012.5" y="58.5" style="font-size:57px;letter-spacing:0.8px">(b)</text>
<path class="l" d="M1224.5,116.0h45.5" stroke="#0000ff" stroke-width="5.6"/>
<text x="1296.8" y="125.6" style="letter-spacing:0.5px;font-size:56px;stroke-width:0.3px">no compensation</text>
<path class="l" d="M1227.3,183.4h13.4M1250.3,183.4h11.4" stroke="#008000" stroke-width="5.2"/>
<text x="1283.5" y="193.6" style="letter-spacing:-0.15px;font-size:58px;stroke-width:0.1px">R=0.50 m</text>
<path class="l" d="M1224.5,250.6h45.5" stroke="#ff0000" stroke-width="5.6"/>
<text x="1283.5" y="261.2" style="letter-spacing:-0.15px;font-size:58px;stroke-width:0.1px">R=1.50 m</text>
<path class="l" d="M1227.3,318.0h13.4M1250.3,318.0h11.4" stroke="#000" stroke-width="5.2"/>
<text x="1283.5" y="328.6" style="letter-spacing:-0.15px;font-size:58px;stroke-width:0.1px">R=2.50 m</text>
</g>
<g id="m1" fill="#fefefe">
<rect x="288.14" y="784.47" width="11.01" height="7.33"/>
<rect x="304.22" y="784.47" width="10.62" height="7.33"/>
<rect x="333.27" y="245.67" width="11.32" height="7.33"/>
<rect x="349.82" y="245.67" width="10.92" height="7.33"/>
<rect x="1092.35" y="253.67" width="11.16" height="7.33"/>
<rect x="1108.66" y="253.67" width="10.77" height="7.33"/>
<rect x="1090.15" y="415.77" width="11.16" height="7.33"/>
<rect x="1106.46" y="415.77" width="10.77" height="7.33"/>
<rect x="1300.84" y="791.67" width="11.01" height="7.33"/>
<rect x="1316.92" y="791.67" width="10.62" height="7.33"/>
<rect x="1362.17" y="255.37" width="11.32" height="7.33"/>
<rect x="1378.72" y="255.37" width="10.92" height="7.33"/>
</g>
<rect x="-5" y="871.3" width="2073" height="30" fill="#fefefe"/>
</svg></body></html>
